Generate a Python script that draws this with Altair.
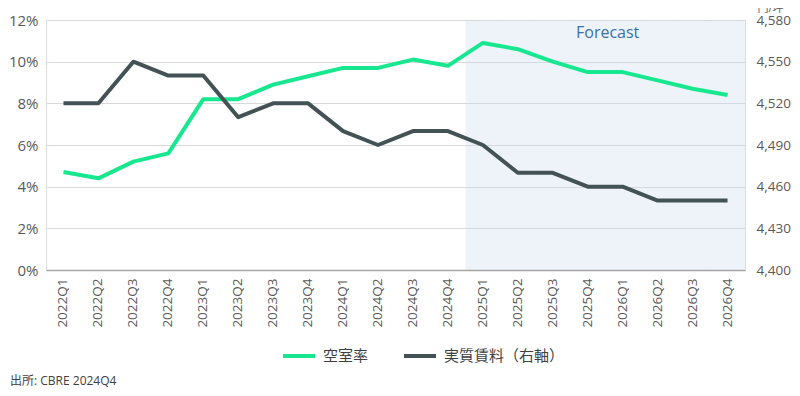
import altair as alt
import pandas as pd

quarters = ["2022Q1", "2022Q2", "2022Q3", "2022Q4",
            "2023Q1", "2023Q2", "2023Q3", "2023Q4",
            "2024Q1", "2024Q2", "2024Q3", "2024Q4",
            "2025Q1", "2025Q2", "2025Q3", "2025Q4",
            "2026Q1", "2026Q2", "2026Q3", "2026Q4"]
vacancy = [4.7, 4.4, 5.2, 5.6, 8.2, 8.2, 8.9, 9.3, 9.7, 9.7, 10.1, 9.8,
           10.9, 10.6, 10.0, 9.5, 9.5, 9.1, 8.7, 8.4]
rent = [4520, 4520, 4550, 4540, 4540, 4510, 4520, 4520, 4500, 4490, 4500, 4500,
        4490, 4470, 4470, 4460, 4460, 4450, 4450, 4450]
forecast_quarters = quarters[12:]
series_names = ["空室率", "実質賃料（右軸）"]
series_colors = ["#17E88F", "#435254"]
left_ticks = [0, 2, 4, 6, 8, 10, 12]
right_ticks = [4400, 4430, 4460, 4490, 4520, 4550, 4580]
forecast_label = "Forecast"
source_label = "出所: CBRE 2024Q4"
right_unit = "円/坪"

FONT = "Open Sans, Noto Sans CJK JP"

long_df = pd.DataFrame(
    [{"quarter": q, "series": series_names[0], "value": v} for q, v in zip(quarters, vacancy)]
    + [{"quarter": q, "series": series_names[1], "value": v} for q, v in zip(quarters, rent)]
)
fc_df = pd.DataFrame({"quarter": forecast_quarters})

x_enc = alt.X("quarter:N", sort=quarters, scale=alt.Scale(domain=quarters, paddingInner=0, paddingOuter=0),
              axis=alt.Axis(title=None, labelAngle=-90, labelFontSize=13.5, labelColor="#595959",
                            labelFont=FONT, labelPadding=8, ticks=False, domainColor="#A6A6A6",
                            domainWidth=1.5, grid=False))

shade = alt.Chart(fc_df).mark_rect(color="#C9DAF0", opacity=0.32, strokeWidth=0).encode(
    x=x_enc, y=alt.value(0), y2=alt.value(250)
)

fc_text = alt.Chart(pd.DataFrame({"quarter": ["2026Q1"], "t": [forecast_label]})).mark_text(
    font=FONT, fontSize=16, color="#3E6FA3", align="center", baseline="middle", dx=-15
).encode(x=alt.X("quarter:N", sort=quarters), y=alt.value(13), text="t:N")

color_enc = alt.Color("series:N", scale=alt.Scale(domain=series_names, range=series_colors),
                      legend=alt.Legend(title=None, orient="none", direction="horizontal",
                                        legendX=235, legendY=318, symbolType="stroke",
                                        symbolStrokeWidth=4, symbolSize=1024, labelFontSize=15,
                                        labelFont=FONT, labelColor="#404040", labelOffset=6,
                                        columnPadding=27, padding=0))

left_line = alt.Chart(long_df).transform_filter(
    alt.datum.series == series_names[0]
).mark_line(strokeWidth=4, strokeJoin="round", strokeCap="butt").encode(
    x=alt.X("quarter:N", sort=quarters),
    y=alt.Y("value:Q", scale=alt.Scale(domain=[0, 12], nice=False),
            axis=alt.Axis(title=None, values=left_ticks, labelExpr="datum.value + '%'",
                          labelFontSize=15, labelColor="#595959", labelFont=FONT,
                          labelPadding=8, ticks=False, domain=False, grid=True,
                          gridColor="#D9D9D9", gridWidth=1)),
    color=color_enc,
)

right_line = alt.Chart(long_df).transform_filter(
    alt.datum.series == series_names[1]
).mark_line(strokeWidth=4, strokeJoin="round", strokeCap="butt").encode(
    x=alt.X("quarter:N", sort=quarters),
    y=alt.Y("value:Q", scale=alt.Scale(domain=[4400, 4580], nice=False),
            axis=alt.Axis(title=right_unit, orient="right", values=right_ticks, format=",d",
                          labelFontSize=13.5, labelColor="#595959", labelFont=FONT,
                          labelPadding=11, ticks=False, domain=False, grid=False,
                          titleAngle=0, titleFont=FONT, titleFontSize=11, titleColor="#595959",
                          titleFontWeight="normal", titleAlign="left", titleBaseline="bottom",
                          titleX=12, titleY=-7)),
    color=color_enc,
)

source_text = alt.Chart(pd.DataFrame({"t": [source_label]})).mark_text(
    font=FONT, fontSize=12, color="#404040", align="left", baseline="middle"
).encode(x=alt.value(-36), y=alt.value(361), text="t:N")

chart = alt.layer(shade, fc_text, left_line, right_line, source_text).resolve_scale(
    y="independent"
).properties(
    width=699, height=250,
    padding={"left": 38, "top": 12, "right": 47, "bottom": 118},
    autosize=alt.AutoSizeParams(type="none"),
).configure_view(stroke=None).configure(background="white")

chart.save("out.html", embed_options={"renderer": "svg", "actions": False})
